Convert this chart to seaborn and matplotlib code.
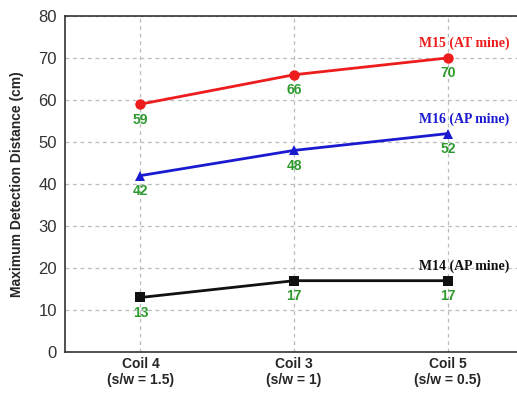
import pandas as pd
import matplotlib.pyplot as plt
from matplotlib.ticker import MultipleLocator
import seaborn as sns

# Data
coils = ['Coil 4\n(s/w = 1.5)', 'Coil 3\n(s/w = 1)', 'Coil 5\n(s/w = 0.5)']
m15 = [59, 66, 70]
m16 = [42, 48, 52]
m14 = [13, 17, 17]
series_names = ['M15 (AT mine)', 'M16 (AP mine)', 'M14 (AP mine)']

rows = []
for name, vals in zip(series_names, [m15, m16, m14]):
    for i, v in enumerate(vals):
        rows.append({'x': i, 'coil': coils[i], 'dist': v, 'mine': name})
df = pd.DataFrame(rows)

sns.set_style('white')
plt.rcParams['font.family'] = ['Liberation Sans', 'DejaVu Sans']

fig = plt.figure(figsize=(5.17, 3.97), dpi=100)
ax = fig.add_axes([0.126, 0.113, 0.88, 0.847])

colors = {'M15 (AT mine)': '#ee1c1c', 'M16 (AP mine)': '#1a1ad0', 'M14 (AP mine)': '#111111'}
markers = {'M15 (AT mine)': 'o', 'M16 (AP mine)': '^', 'M14 (AP mine)': 's'}
sns.lineplot(data=df, x='x', y='dist', hue='mine', style='mine', palette=colors,
             markers=markers, dashes=False, markersize=7.5, linewidth=2,
             markeredgewidth=0, legend=False, ax=ax)

# value labels
for vals in [m15, m16, m14]:
    for i, v in enumerate(vals):
        ax.text(i, v - 2.0, str(v), color='#2e9a2e', fontsize=10, fontweight='bold',
                ha='center', va='top')

# series labels
ax.text(2.4, 73.5, 'M15 (AT mine)', color=colors['M15 (AT mine)'], fontsize=10,
        fontweight='bold', family='Liberation Serif', ha='right', va='center')
ax.text(2.4, 55.5, 'M16 (AP mine)', color=colors['M16 (AP mine)'], fontsize=10,
        fontweight='bold', family='Liberation Serif', ha='right', va='center')
ax.text(2.4, 20.5, 'M14 (AP mine)', color='#111111', fontsize=10,
        fontweight='bold', family='Liberation Serif', ha='right', va='center')

ax.set_xlim(-0.49, 2.47)
ax.set_ylim(0, 80)
ax.set_xticks(range(len(coils)))
ax.set_xticklabels(coils, fontsize=10, fontweight='bold')
ax.xaxis.set_minor_locator(MultipleLocator(0.5))
ax.yaxis.set_major_locator(MultipleLocator(10))
ax.yaxis.set_minor_locator(MultipleLocator(5))
ax.tick_params(axis='y', labelsize=12, labelcolor='#333333', pad=6)
ax.tick_params(which='both', direction='in', length=3, width=1)
ax.set_xlabel('')
ax.set_ylabel('Maximum Detection Distance (cm)', fontsize=10, fontweight='bold', labelpad=10)
ax.grid(True, which='major', linestyle=(0, (3, 3)), color='#bbbbbb', linewidth=0.9)
for s in ax.spines.values():
    s.set_color('#333333')
    s.set_linewidth(1.2)

fig.savefig('out.png', dpi=100)
